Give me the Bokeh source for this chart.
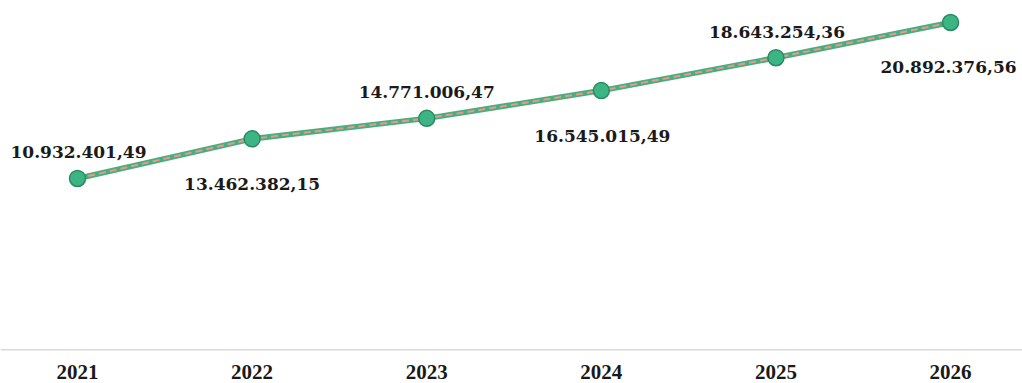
from bokeh.plotting import figure
from bokeh.models import ColumnDataSource, Range1d, Span
from bokeh.core.properties import value
from bokeh.embed import file_html
from bokeh.resources import INLINE

years = [2021, 2022, 2023, 2024, 2025, 2026]
values = [10932401.49, 13462382.15, 14771006.47, 16545015.49, 18643254.36, 20892376.56]
value_labels = ["10.932.401,49", "13.462.382,15", "14.771.006,47",
                "16.545.015,49", "18.643.254,36", "20.892.376,56"]
year_labels = ["2021", "2022", "2023", "2024", "2025", "2026"]

# label placement (screen px): above for even index, below for odd
label_dy = [-26 if i % 2 == 0 else 45 for i in range(len(years))]
label_dx = [1, 0, 0, 1, 1, -2]

src = ColumnDataSource(dict(x=years, y=values, lab=value_labels, dy=label_dy, dx=label_dx))
ysrc = ColumnDataSource(dict(x=years, y=[0] * len(years), lab=year_labels))

p = figure(width=1022, height=383, output_backend="svg", toolbar_location=None,
           x_range=Range1d(2020.559, 2026.412), y_range=Range1d(-2.158e6, 22.297e6),
           min_border=0, min_border_left=0, min_border_right=0,
           min_border_top=0, min_border_bottom=0)
p.axis.visible = False
p.grid.visible = False
p.outline_line_color = None
p.background_fill_color = "white"
p.border_fill_color = "white"

p.add_layout(Span(location=0, dimension="width", line_color="#dadada", line_width=1.5))

p.line("x", "y", source=src, line_color="#3fa97c", line_width=5.5, line_alpha=0.95)
p.line("x", "y", source=src, line_color="#e99a82", line_width=2, line_dash="7 4")
p.scatter("x", "y", source=src, size=16, fill_color="#3db483", line_color="#2b8a62", line_width=1.5)

p.text("x", "y", text="lab", source=src, x_offset="dx", y_offset="dy",
       text_align="center", text_baseline="alphabetic",
       text_font=value("DejaVu Serif"), text_font_style="bold",
       text_font_size="17px", text_color="#1a1a1a")

p.text("x", "y", text="lab", source=ysrc, y_offset=22,
       text_align="center", text_baseline="alphabetic",
       text_font=value("Liberation Serif"), text_font_style="bold",
       text_font_size="21px", text_color="#1a1a1a")

open("out.html", "w").write(file_html(p, INLINE))
